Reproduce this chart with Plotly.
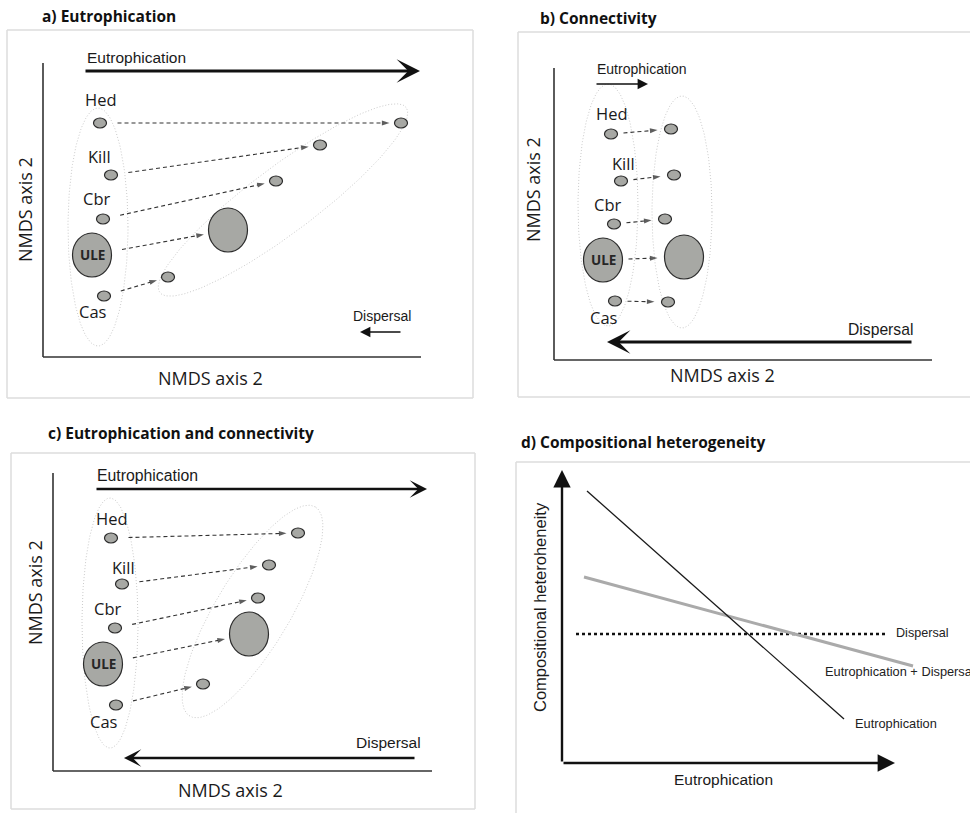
import numpy as np
import plotly.graph_objects as go

W, H = 970, 813

sites = ["Hed", "Kill", "Cbr", "ULE", "Cas"]

# ---------------- panel a: Eutrophication ----------------
a_start_x = [57, 68, 60, 49, 61]
a_start_y = [234, 182, 138, 102, 61]
a_end_x = [358, 277, 233, 185, 125]
a_end_y = [234, 212, 176, 127, 80]
a_lab_x = [58, 56, 53, None, 50]
a_lab_y = [257, 200, 158, None, 45]

# ---------------- panel b: Connectivity ----------------
b_start_x = [57, 67, 60, 49, 61]
b_start_y = [226, 179, 136, 100, 59]
b_end_x = [117, 120, 111, 130, 114]
b_end_y = [231, 185, 141, 103, 58]
b_lab_x = [58, 69, 53, None, 50]
b_lab_y = [247, 197, 156, None, 43]

# ---------------- panel c: Eutrophication and connectivity ----------------
c_start_x = [58, 69, 62, 50, 63]
c_start_y = [233, 187, 143, 107, 66]
c_end_x = [245, 216, 205, 196, 150]
c_end_y = [238, 206, 173, 137, 87]
c_lab_x = [59, 70, 54, None, 51]
c_lab_y = [253, 204, 163, None, 50]

# ---------------- panel d: Compositional heterogeneity ----------------
d_eut_x = [25, 282]
d_eut_y = [272, 44]
d_ed_x = [22, 351]
d_ed_y = [186, 97]
d_disp_x = [14, 326]
d_disp_y = [129, 129]

# panel geometry (pixel frame box, pixel position of diagram origin, frame sides drawn)
panels = {
    "a": dict(frame=(7, 30, 473, 398), origin=(43, 357), sides="tlbr"),
    "b": dict(frame=(518, 32, 970, 397), origin=(554, 360), sides="tlb"),
    "c": dict(frame=(11, 453, 475, 809), origin=(53, 771), sides="tlbr"),
    "d": dict(frame=(516, 462, 970, 813), origin=(562, 763), sides="tl"),
}

PT_FILL = "#a7a8a4"
PT_LINE = "#2b2b2b"
LAB_FONT = "Open Sans"
ARR_FONT = "Liberation Sans, Arial, sans-serif"
FRAME = dict(color="#dcdcdc", width=1.5)

fig = go.Figure()
shapes = []
annos = []

layout_axes = {}
for i, (k, p) in enumerate(panels.items()):
    fx0, fy0, fx1, fy1 = p["frame"]
    ox, oy = p["origin"]
    dx1 = min(fx1, 955)  # plotting area stops short of the page edge
    dy1 = min(fy1, 800)
    sx = "" if i == 0 else str(i + 1)
    layout_axes["xaxis" + sx] = dict(domain=[fx0 / W, dx1 / W], range=[fx0 - ox, dx1 - ox],
                                     visible=False, anchor="y" + sx, fixedrange=True)
    layout_axes["yaxis" + sx] = dict(domain=[1 - dy1 / H, 1 - fy0 / H], range=[oy - dy1, oy - fy0],
                                     visible=False, anchor="x" + sx, fixedrange=True)
    X0, X1, Y0, Y1 = fx0 / W, fx1 / W, 1 - fy1 / H, 1 - fy0 / H
    segs = {"t": (X0, Y1, X1, Y1), "b": (X0, Y0, X1, Y0), "l": (X0, Y0, X0, Y1), "r": (X1, Y0, X1, Y1)}
    for sd in p["sides"]:
        x0, y0, x1, y1 = segs[sd]
        shapes.append(dict(type="line", xref="paper", yref="paper", x0=x0, y0=y0, x1=x1, y1=y1,
                           line=FRAME, layer="below"))


def ellipse_trace(cx, cy, a, b, ang, xa, ya):
    t = np.linspace(0, 2 * np.pi, 200)
    th = np.deg2rad(ang)
    x = cx + a * np.cos(t) * np.cos(th) - b * np.sin(t) * np.sin(th)
    y = cy + a * np.cos(t) * np.sin(th) + b * np.sin(t) * np.cos(th)
    return go.Scatter(x=x, y=y, mode="lines", xaxis=xa, yaxis=ya, hoverinfo="skip",
                      line=dict(color="#c4c4c4", width=0.9, dash="1px,2px"), showlegend=False)


def add_points(xs, ys, xa, ya):
    for s, x, y in zip(sites, xs, ys):
        rx, ry = (19.5, 22) if s == "ULE" else (6.5, 5)
        shapes.append(dict(type="circle", xref=xa, yref=ya, x0=x - rx, x1=x + rx, y0=y - ry, y1=y + ry,
                           fillcolor=PT_FILL, line=dict(color=PT_LINE, width=1.2), layer="above"))


def add_moves(sx_, sy_, ex_, ey_, xa, ya, g1, g2):
    for s, x0, y0, x1, y1 in zip(sites, sx_, sy_, ex_, ey_):
        r = 19.5 if s == "ULE" else 6.5
        dx, dy = x1 - x0, y1 - y0
        L = np.hypot(dx, dy)
        ux, uy = dx / L, dy / L
        tx, ty = x0 + ux * (r + g1), y0 + uy * (r + g1)
        hx, hy = x1 - ux * (r + g2), y1 - uy * (r + g2)
        fig.add_trace(go.Scatter(x=[tx, hx], y=[ty, hy], mode="lines+markers", xaxis=xa, yaxis=ya,
                                 hoverinfo="skip", showlegend=False,
                                 line=dict(color="#333333", width=1.1, dash="4px,3px"),
                                 marker=dict(symbol="arrow", size=[0, 8], angleref="previous",
                                             color="#1a1a1a", line=dict(width=0))))


def add_labels(lx, ly, xa, ya, starts_x, starts_y):
    for s, x, y, px, py in zip(sites, lx, ly, starts_x, starts_y):
        if s == "ULE":
            annos.append(dict(x=px, y=py, xref=xa, yref=ya, text="ULE", showarrow=False,
                              font=dict(family=LAB_FONT, size=13.5, color="#262626", weight="bold")))
        else:
            annos.append(dict(x=x, y=y, xref=xa, yref=ya, text=s, showarrow=False,
                              font=dict(family=LAB_FONT, size=16.5, color="#1a1a1a")))


def add_L(xa, ya, top, right, w=1.6):
    shapes.append(dict(type="line", xref=xa, yref=ya, x0=0, x1=0, y0=0, y1=top,
                       line=dict(color="#333333", width=w)))
    shapes.append(dict(type="line", xref=xa, yref=ya, x0=0, x1=right, y0=0, y1=0,
                       line=dict(color="#333333", width=w)))


def arrow(xa, ya, tail, tip, width, size, head=3, color="#111111"):
    annos.append(dict(xref=xa, yref=ya, axref=xa, ayref=ya, x=tip[0], y=tip[1], ax=tail[0], ay=tail[1],
                      text="", showarrow=True, arrowhead=head, arrowwidth=width, arrowsize=size,
                      arrowcolor=color, standoff=0, startstandoff=0))


def text(xa, ya, x, y, s, size, family=ARR_FONT, angle=0, xanchor="center", color="#1a1a1a"):
    annos.append(dict(xref=xa, yref=ya, x=x, y=y, text=s, showarrow=False, textangle=angle,
                      xanchor=xanchor, font=dict(family=family, size=size, color=color)))


# ---- panel a ----
xa, ya = "x", "y"
fig.add_trace(ellipse_trace(55, 130, 30, 119, 0, xa, ya))
fig.add_trace(ellipse_trace(240, 157, 154, 33, 36.9, xa, ya))
add_L(xa, ya, 294, 378)
add_points(a_start_x, a_start_y, xa, ya)
add_points(a_end_x, a_end_y, xa, ya)
add_moves(a_start_x, a_start_y, a_end_x, a_end_y, xa, ya, 11, 5)
add_labels(a_lab_x, a_lab_y, xa, ya, a_start_x, a_start_y)
arrow(xa, ya, (41, 286), (377, 286), 3, 1.3)
text(xa, ya, 93.5, 299, "Eutrophication", 15.5)
arrow(xa, ya, (359, 25), (317, 25), 1.3, 1.6, head=2)
text(xa, ya, 339, 41, "Dispersal", 14)
text(xa, ya, 167, -21, "NMDS axis 2", 18, family=LAB_FONT)
text(xa, ya, -18, 147, "NMDS axis 2", 18, family=LAB_FONT, angle=-90)

# ---- panel b ----
xa, ya = "x2", "y2"
fig.add_trace(ellipse_trace(54, 155, 30, 121, 0, xa, ya))
fig.add_trace(ellipse_trace(128, 148, 30, 116, 0, xa, ya))
add_L(xa, ya, 292, 378)
add_points(b_start_x, b_start_y, xa, ya)
add_points(b_end_x, b_end_y, xa, ya)
add_moves(b_start_x, b_start_y, b_end_x, b_end_y, xa, ya, 6, 7)
add_labels(b_lab_x, b_lab_y, xa, ya, b_start_x, b_start_y)
arrow(xa, ya, (41, 276), (94, 276), 1.3, 1.6, head=2)
text(xa, ya, 88, 291, "Eutrophication", 14)
arrow(xa, ya, (359, 18), (53, 18), 3, 1.3)
text(xa, ya, 326, 31, "Dispersal", 15.7)
text(xa, ya, 168, -15, "NMDS axis 2", 18, family=LAB_FONT)
text(xa, ya, -21, 170, "NMDS axis 2", 18, family=LAB_FONT, angle=-90)

# ---- panel c ----
xa, ya = "x3", "y3"
fig.add_trace(ellipse_trace(57, 148, 28, 125, 0, xa, ya))
fig.add_trace(ellipse_trace(199.5, 159.5, 122, 37, 59, xa, ya))
add_L(xa, ya, 298, 379)
add_points(c_start_x, c_start_y, xa, ya)
add_points(c_end_x, c_end_y, xa, ya)
add_moves(c_start_x, c_start_y, c_end_x, c_end_y, xa, ya, 11, 5)
add_labels(c_lab_x, c_lab_y, xa, ya, c_start_x, c_start_y)
arrow(xa, ya, (42, 282), (374, 282), 2.4, 1.2)
text(xa, ya, 94, 296, "Eutrophication", 15.8)
arrow(xa, ya, (363, 13), (71, 13), 2.4, 1.2)
text(xa, ya, 335, 29, "Dispersal", 15.5)
text(xa, ya, 177, -19, "NMDS axis 2", 18, family=LAB_FONT)
text(xa, ya, -18, 178, "NMDS axis 2", 18, family=LAB_FONT, angle=-90)

# ---- panel d ----
xa, ya = "x4", "y4"
fig.add_trace(go.Scatter(x=d_disp_x, y=d_disp_y, mode="lines", xaxis=xa, yaxis=ya, showlegend=False,
                         hoverinfo="skip", line=dict(color="#111111", width=2.6, dash="3px,3px")))
fig.add_trace(go.Scatter(x=d_ed_x, y=d_ed_y, mode="lines", xaxis=xa, yaxis=ya, showlegend=False,
                         hoverinfo="skip", line=dict(color="#aaaaaa", width=3)))
fig.add_trace(go.Scatter(x=d_eut_x, y=d_eut_y, mode="lines", xaxis=xa, yaxis=ya, showlegend=False,
                         hoverinfo="skip", line=dict(color="#1a1a1a", width=1.3)))
arrow(xa, ya, (0, 0), (0, 293), 2.4, 1.45, head=2)
arrow(xa, ya, (0, 0), (333, 0), 2.4, 1.45, head=2)
text(xa, ya, d_disp_x[1] + 6, d_disp_y[1] + 1, "Dispersal", 12.6, xanchor="left", color="#222")
text(xa, ya, d_ed_x[1] - 90, d_ed_y[1] - 5, "Eutrophication + Dispersal", 12.8, xanchor="left", color="#222")
text(xa, ya, d_eut_x[1] + 9, d_eut_y[1] - 4, "Eutrophication", 12.8, xanchor="left", color="#222")
text(xa, ya, 161, -16, "Eutrophication", 15.5)
text(xa, ya, -22, 156, "Compositional heteroheneity", 16.5, angle=-90)

# ---- titles ----
titles = [("a) Eutrophication", 40, 16), ("b) Connectivity", 538, 18),
          ("c) Eutrophication and connectivity", 46, 433), ("d) Compositional heterogeneity", 519, 442)]
for t, px, py in titles:
    annos.append(dict(xref="paper", yref="paper", x=px / W, y=1 - py / H, text=t, showarrow=False,
                      xanchor="left", yanchor="middle",
                      font=dict(family=LAB_FONT, size=15.5, color="#111111", weight="bold")))

fig.update_layout(width=W, height=H, margin=dict(l=0, r=0, t=0, b=0),
                  paper_bgcolor="white", plot_bgcolor="rgba(0,0,0,0)",
                  shapes=shapes, annotations=annos, showlegend=False, **layout_axes)

fig.write_html("out.html", config={"displayModeBar": False},
               post_script="document.body.style.margin='0';document.body.style.overflow='hidden';")
